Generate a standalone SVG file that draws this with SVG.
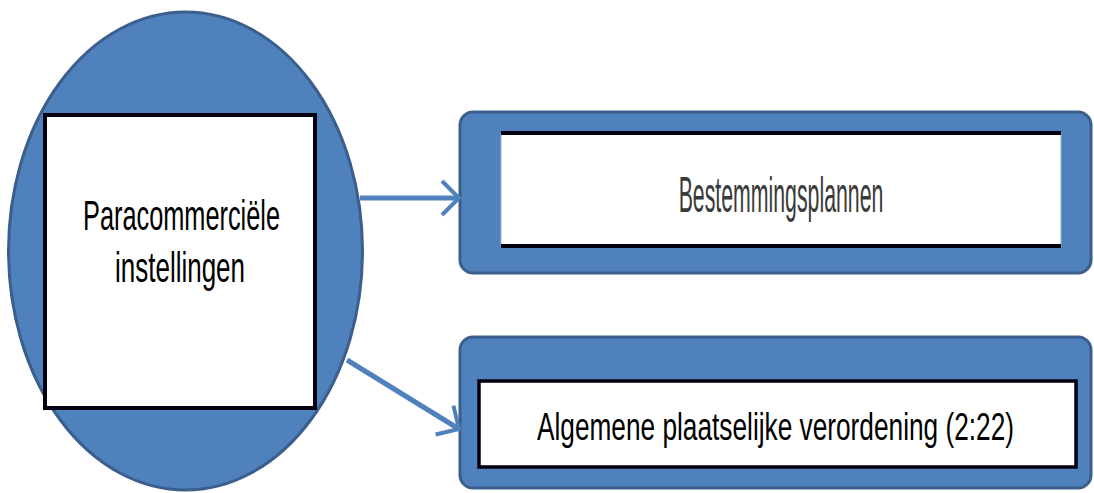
<svg xmlns="http://www.w3.org/2000/svg" width="1094" height="493" viewBox="0 0 1094 493">
  <style>
    .blue { fill: #4F81BD; stroke: #3B5E8C; stroke-width: 3; }
    .conn { stroke: #4F81BD; stroke-width: 5; fill: none; }
    .lbl { font-family: "Liberation Sans", Arial, sans-serif; fill: #000; text-anchor: middle; }
  </style>
  <defs>
    <marker id="chev" markerUnits="userSpaceOnUse" markerWidth="40" markerHeight="40" viewBox="-22 -20 26 40" refX="0" refY="0" orient="auto">
      <path d="M -17 -17 L 0 0 L -17 17" fill="none" stroke="#4F81BD" stroke-width="4"/>
    </marker>
  </defs>
  <rect width="1094" height="493" fill="#ffffff"/>

  <g id="node-paracommercieel">
    <ellipse class="blue" cx="185.5" cy="251" rx="177" ry="239"/>
    <rect x="45" y="115" width="270" height="293" fill="#ffffff" stroke="#000010" stroke-width="4"/>
    <text class="lbl" font-size="42" transform="translate(181.5 230) scale(0.603 1)">Paracommerciële</text>
    <text class="lbl" font-size="42" transform="translate(180 282) scale(0.619 1)">instellingen</text>
  </g>

  <g id="node-bestemmingsplannen">
    <rect class="blue" x="460" y="112" width="631" height="161" rx="13" ry="13"/>
    <rect x="501" y="133" width="560" height="113" fill="#ffffff" stroke="#9FB3CC" stroke-width="1"/>
    <rect x="501" y="131" width="560" height="4" fill="#000010"/>
    <rect x="501" y="244" width="560" height="4" fill="#000010"/>
    <text class="lbl" font-size="50" style="fill:#3a3a3a" transform="translate(781 212) scale(0.426 1)">Bestemmingsplannen</text>
  </g>

  <g id="node-apv">
    <rect class="blue" x="460" y="337" width="631" height="151" rx="13" ry="13"/>
    <rect x="479" y="381" width="597" height="86" fill="#ffffff" stroke="#000010" stroke-width="3.5"/>
    <text class="lbl" font-size="39" transform="translate(775.5 440) scale(0.673 1)">Algemene plaatselijke verordening (2:22)</text>
  </g>

  <g id="connectors">
    <line class="conn" x1="360" y1="198" x2="459" y2="198" marker-end="url(#chev)"/>
    <line class="conn" x1="347" y1="360" x2="459" y2="429" marker-end="url(#chev)"/>
  </g>
</svg>
